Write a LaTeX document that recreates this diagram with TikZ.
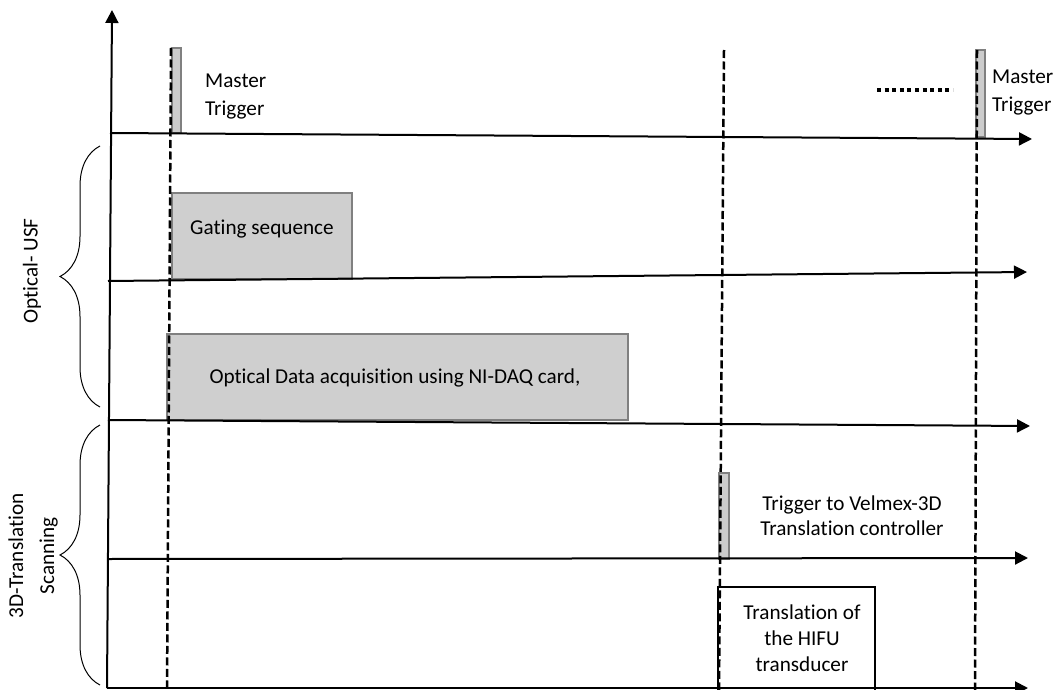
\documentclass[tikz,border=0pt]{standalone}
\usepackage{fontspec}
\setmainfont{Carlito}[Ligatures=NoCommon]
\usetikzlibrary{arrows.meta,decorations.pathreplacing}
\begin{document}
\begin{tikzpicture}[x=1pt,y=-1pt,
  axis/.style={line width=2pt,-{Triangle[length=13pt,width=13pt]}},
  marker/.style={line width=2.5pt,dash pattern=on 8pt off 3.5pt},
  pulse/.style={draw=black!50,fill=black!20,line width=1.2pt},
  block/.style={draw=black!50,fill=black!19,line width=1.5pt},
  lbl/.style={font=\fontsize{21.2}{28}\selectfont,inner sep=0pt,text=black},
  grp/.style={decorate,decoration={brace,amplitude=40pt},line width=1pt}]
\useasboundingbox (0,0) rectangle (1055,690);
\begin{scope}
\clip (0,0) rectangle (1055,690);

% time axis origin and vertical axis
\coordinate (o) at (107,688);
\coordinate (ytip) at (112,10);

% channel baselines
\coordinate (l1s) at (110,133); \coordinate (l1e) at (1032,139);
\coordinate (l2s) at (108,281); \coordinate (l2e) at (1027,272);
\coordinate (l3s) at (108,420); \coordinate (l3e) at (1030,426);
\coordinate (l4s) at (108,559); \coordinate (l4e) at (1028,558);
\coordinate (l5e) at (1028,688);

% event markers
\coordinate (d1t) at (171,48);  \coordinate (d1b) at (167,692);
\coordinate (d2t) at (724,50);  \coordinate (d2b) at (719,692);
\coordinate (d3t) at (977,50);  \coordinate (d3b) at (975,692);

% blocks and pulses
\draw[block] (172,193) rectangle (352,279);
\draw[block] (167,334) rectangle (628,420);
\draw[draw=black,fill=white,line width=2pt] (718,587) rectangle (875,700);
\draw[pulse] (172,48) rectangle (181,133);
\draw[pulse] (976,50) rectangle (985,137);
\draw[pulse] (719,473) rectangle (729,559);

\draw[marker] (d1t) -- (d1b);
\draw[marker] (d2t) -- (d2b);
\draw[marker] (d3t) -- (d3b);

\draw[axis] (o) -- (ytip);
\draw[axis] (l1s) -- (l1e);
\draw[axis] (l2s) -- (l2e);
\draw[axis] (l3s) -- (l3e);
\draw[axis] (l4s) -- (l4e);
\draw[axis] (o) -- (l5e);

% repetition dots
\coordinate (dots1) at (877,90); \coordinate (dots2) at (953,90);
\draw[line width=4pt,dash pattern=on 4pt off 3.6pt] (dots1) -- (dots2);

% labels
\node[lbl,anchor=west,align=left] (mt1) at (205,96.5) {Master\\Trigger};
\node[lbl,anchor=west,align=left] (mt2) at (992,93) {Master\\Trigger};
\node[lbl] (gate) at (262,229) {Gating sequence};
\node[lbl] (daq) at (395,378) {Optical Data acquisition using NI-DAQ card,};
\node[lbl,align=center,font=\fontsize{21.2}{25}\selectfont] (velmex) at (852,515.5) {Trigger to Velmex-3D\\Translation controller};
\node[lbl,align=center,font=\fontsize{21.2}{26}\selectfont] (hifu) at (802,638) {Translation of\\the HIFU\\transducer};

% channel groups
\draw[grp] (100,407) -- (100,146);
\draw[grp] (100,685) -- (100,425);
\node[lbl,rotate=90] (usf) at (32,271) {Optical- USF};
\node[lbl,rotate=90,align=center,font=\fontsize{21.2}{31}\selectfont] (scan) at (33,556) {3D-Translation\\Scanning};
\end{scope}
\end{tikzpicture}
\end{document}
